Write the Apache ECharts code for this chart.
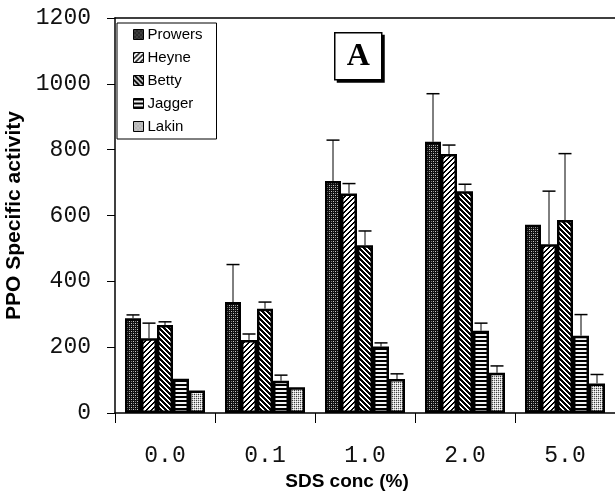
<!DOCTYPE html>
<html>
<head>
<meta charset="utf-8">
<script src="https://cdn.jsdelivr.net/npm/echarts@6/dist/echarts.min.js"></script>
<style>html,body{margin:0;padding:0;background:#fff;}#c{width:615px;height:492px;}</style>
</head>
<body>
<div id="c"></div>
<script>
// ---- data ----
const categories = ['0.0', '0.1', '1.0', '2.0', '5.0'];
const seriesNames = ['Prowers', 'Heyne', 'Betty', 'Jagger', 'Lakin'];
const prowers = [288, 337, 705, 824, 572];
const heyne   = [227, 222, 667, 787, 513];
const betty   = [267, 317, 510, 674, 586];
const jagger  = [104, 98, 202, 250, 235];
const lakin   = [68, 78, 103, 122, 90];
// upper error bar lengths
const prowersErr = [10, 114, 124, 146, 0];
const heyneErr   = [46, 18, 30, 27, 161];
const bettyErr   = [10, 20, 43, 21, 202];
const jaggerErr  = [0, 17, 11, 23, 64];
const lakinErr   = [0, 0, 16, 21, 27];
const yTicks = [0, 200, 400, 600, 800, 1000, 1200];

const values = [prowers, heyne, betty, jagger, lakin];
const errs = [prowersErr, heyneErr, bettyErr, jaggerErr, lakinErr];

// ---- patterns ----
function tile(w, h, fn) {
  const c = document.createElement('canvas');
  c.width = w; c.height = h;
  const g = c.getContext('2d');
  for (let y = 0; y < h; y++) for (let x = 0; x < w; x++) {
    g.fillStyle = fn(x, y);
    g.fillRect(x, y, 1, 1);
  }
  return { image: c, repeat: 'repeat' };
}
const patterns = [
  tile(4, 4, (x, y) => ((x === 1 && y === 1) || (x === 3 && y === 3)) ? '#c8c8c8' : (((x === 1 && y === 3) || (x === 3 && y === 1)) ? '#808080' : '#111')),
  tile(5, 5, (x, y) => ((x + y) % 5) < 2 ? '#000' : '#fff'),
  tile(5, 5, (x, y) => (((x - y) % 5 + 5) % 5) < 3 ? '#000' : '#fff'),
  tile(1, 4, (x, y) => y < 2 ? '#000' : '#f4f4f4'),
  tile(4, 4, (x, y) => ((x === 0 && y === 0) || (x === 2 && y === 2)) ? '#333' : (((x === 0 && y === 2) || (x === 2 && y === 0)) ? '#666' : (((x + y) % 2 === 1) ? '#d0d0d0' : '#fff')))
];

const barSeries = seriesNames.map((n, i) => ({
  name: n,
  type: 'bar',
  data: values[i],
  barGap: '0%',
  barCategoryGap: '20%',
  itemStyle: { color: patterns[i], borderColor: '#000', borderWidth: 2.5 },
  z: 2
}));

const errData = [];
errs.forEach((arr, s) => arr.forEach((e, c) => { if (e > 0) errData.push([c, values[s][c], e, s]); }));

const errSeries = {
  type: 'custom',
  name: 'err',
  z: 5,
  data: errData,
  encode: { x: 0, y: 1 },
  renderItem: function (params, api) {
    const cat = api.value(0), mean = api.value(1), e = api.value(2), s = api.value(3);
    const base = api.coord([cat, mean]);
    const top = api.coord([cat, mean + e]);
    const bandW = api.size([1, 0])[0];
    const bw = bandW * 0.8 / 5;
    const x = base[0] + (s - 2) * bw;
    return {
      type: 'group',
      children: [
        { type: 'line', shape: { x1: x, y1: base[1], x2: x, y2: top[1] }, style: { stroke: '#000', lineWidth: 1 } },
        { type: 'line', shape: { x1: x - 6.5, y1: top[1], x2: x + 6.5, y2: top[1] }, style: { stroke: '#000', lineWidth: 1.5 } }
      ]
    };
  }
};

const chart = echarts.init(document.getElementById('c'), null, { renderer: 'canvas' });
chart.setOption({
  backgroundColor: '#fff',
  animation: false,
  grid: { left: 115, right: 0, top: 18, bottom: 79, containLabel: false, outerBoundsMode: 'none' },
  legend: {
    data: seriesNames,
    orient: 'vertical',
    left: 117, top: 23,
    padding: [4, 14, 5, 16],
    itemWidth: 10, itemHeight: 10, itemGap: 8,
    icon: 'rect',
    backgroundColor: '#fff',
    borderColor: '#000', borderWidth: 1,
    itemStyle: { borderWidth: 1, borderColor: '#000' },
    textStyle: { fontFamily: 'Liberation Sans', fontSize: 15, color: '#000', padding: [0, 0, 0, -1] }
  },
  xAxis: [{
    type: 'category',
    data: categories,
    name: 'SDS conc (%)',
    nameLocation: 'middle',
    nameGap: 54,
    nameTextStyle: { fontFamily: 'Liberation Sans', fontWeight: 'bold', fontSize: 19, color: '#000', padding: [0, 36, 0, 0] },
    axisLine: { lineStyle: { color: '#000', width: 1.5 } },
    axisTick: { show: true, length: 10, lineStyle: { color: '#000', width: 1 } },
    axisLabel: { fontFamily: 'Liberation Mono', fontSize: 23, color: '#111', margin: 31 },
    splitLine: { show: false }
  }, {
    type: 'category',
    data: categories,
    position: 'top',
    axisLine: { lineStyle: { color: '#000', width: 1.5 } },
    axisTick: { show: false },
    axisLabel: { show: false },
    splitLine: { show: false }
  }],
  yAxis: {
    type: 'value',
    min: yTicks[0], max: yTicks[yTicks.length - 1], interval: 200,
    name: 'PPO Specific activity',
    nameLocation: 'middle',
    nameGap: 83,
    nameTextStyle: { fontFamily: 'Liberation Sans', fontWeight: 'bold', fontSize: 21, color: '#000' },
    axisLine: { show: true, lineStyle: { color: '#000', width: 1.5 } },
    axisTick: { show: true, length: 8, lineStyle: { color: '#000', width: 1 } },
    axisLabel: { fontFamily: 'Liberation Mono', fontSize: 23, color: '#111', margin: 24, formatter: v => String(v) },
    splitLine: { show: false }
  },
  graphic: [{
    type: 'group',
    left: 334, top: 32,
    children: [
      { type: 'rect', shape: { x: 2, y: 2, width: 48, height: 48 }, style: { fill: '#000' } },
      { type: 'rect', shape: { x: 0, y: 0, width: 47, height: 47 }, style: { fill: '#fff', stroke: '#000', lineWidth: 1.5 } },
      { type: 'text', x: 23.5, y: 24, style: { text: 'A', fontFamily: 'Liberation Serif', fontWeight: 'bold', fontSize: 32, fill: '#000', align: 'center', verticalAlign: 'middle' } }
    ]
  }],
  series: barSeries.concat([errSeries])
});
</script>
</body>
</html>
